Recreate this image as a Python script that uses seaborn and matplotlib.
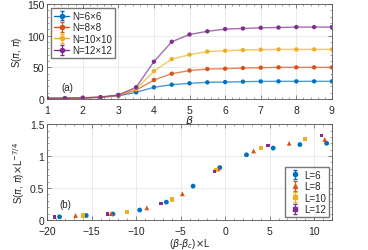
import numpy as np
import pandas as pd
import matplotlib
matplotlib.use("Agg")
import matplotlib.pyplot as plt
from matplotlib.ticker import MultipleLocator
import seaborn as sns

# --- panel (a): S(pi,pi) vs beta ---
beta = [1.0, 1.5, 2.0, 2.5, 3.0, 3.5, 4.0, 4.5, 5.0, 5.5, 6.0, 6.5, 7.0, 7.5, 8.0, 8.5, 9.0]
s_n6 = [1.0, 1.2, 1.6, 2.6, 5.0, 10.5, 18.5, 22.6, 24.8, 26.3, 26.8, 27.4, 27.8, 27.9, 27.9, 27.9, 27.9]
s_n8 = [1.0, 1.2, 1.7, 2.8, 5.6, 14.0, 30.0, 40.0, 45.0, 47.4, 47.9, 49.0, 49.5, 50.0, 50.0, 50.0, 50.0]
s_n10 = [1.0, 1.2, 1.7, 2.9, 6.0, 15.8, 44.0, 63.0, 70.0, 75.0, 76.3, 77.4, 78.0, 78.4, 78.4, 78.4, 78.4]
s_n12 = [1.0, 1.2, 1.8, 3.0, 6.5, 18.5, 59.0, 90.5, 102.0, 107.0, 110.5, 111.5, 112.6, 113.0, 113.7, 113.7, 113.7]
series_a = ["N=6×6", "N=8×8", "N=10×10", "N=12×12"]

# --- panel (b): scaled data collapse ---
x_l6 = [-18.6, -15.6, -12.6, -9.6, -6.6, -3.6, -0.6, 2.4, 5.4, 8.4, 11.4]
y_l6 = [0.05, 0.07, 0.094, 0.156, 0.28, 0.53, 0.82, 1.02, 1.125, 1.18, 1.2]
x_l8 = [-16.8, -12.8, -8.8, -4.8, -0.8, 3.2, 7.2, 11.2]
y_l8 = [0.07, 0.10, 0.19, 0.41, 0.80, 1.08, 1.20, 1.26]
x_l10 = [-16.0, -11.0, -6.0, -1.0, 4.0, 9.0]
y_l10 = [0.07, 0.125, 0.32, 0.78, 1.125, 1.27]
x_l12 = [-19.2, -13.2, -7.2, -1.2, 4.8, 10.8]
y_l12 = [0.05, 0.094, 0.26, 0.76, 1.17, 1.32]
series_b = ["L=6", "L=8", "L=10", "L=12"]

colors = ["#0072BD", "#D95319", "#EDB120", "#7E2F8E"]
txt = "#262626"

sns.set_theme(style="ticks")
plt.rcParams["font.family"] = ["Liberation Sans", "DejaVu Sans"]
plt.rcParams["mathtext.fontset"] = "dejavusans"
plt.rcParams["font.size"] = 7
plt.rcParams["xtick.labelsize"] = 7.5
plt.rcParams["ytick.labelsize"] = 7.5
plt.rcParams["legend.fontsize"] = 7
plt.rcParams["axes.edgecolor"] = "#555555"
plt.rcParams["axes.linewidth"] = 0.6
plt.rcParams["xtick.color"] = "#555555"
plt.rcParams["ytick.color"] = "#555555"
plt.rcParams["xtick.labelcolor"] = txt
plt.rcParams["ytick.labelcolor"] = txt

fig = plt.figure(figsize=(3.68, 2.51), dpi=100)
ax1 = fig.add_axes([0.128, 0.6016, 0.774, 0.378])
ax2 = fig.add_axes([0.128, 0.1195, 0.774, 0.382])

df_a = pd.DataFrame({
    "beta": beta * 4,
    "S": s_n6 + s_n8 + s_n10 + s_n12,
    "N": np.repeat(series_a, len(beta)),
})
sns.lineplot(data=df_a, x="beta", y="S", hue="N", palette=colors, ax=ax1,
             legend=False, linewidth=1.0, alpha=0.7)
sns.scatterplot(data=df_a, x="beta", y="S", hue="N", palette=colors, ax=ax1,
                legend=False, s=10, marker="o", edgecolor="none", zorder=3)
for lab, c in zip(series_a, colors):
    ax1.errorbar([np.nan], [np.nan], yerr=[0], color=c, marker="o", ms=3,
                 lw=1.0, capsize=1.5, elinewidth=0.8, label=lab)

ax1.set_xlim(1, 9)
ax1.set_ylim(0, 150)
ax1.xaxis.set_major_locator(MultipleLocator(1))
ax1.xaxis.set_minor_locator(MultipleLocator(0.2))
ax1.yaxis.set_major_locator(MultipleLocator(50))
ax1.yaxis.set_minor_locator(MultipleLocator(10))
ax1.set_xlabel(r"$\beta$", fontsize=8, labelpad=-1, color=txt)
ax1.set_ylabel(r"S($\pi$, $\pi$)", fontsize=7, labelpad=2, color=txt)
ax1.text(1.4, 14, "(a)", fontsize=7, color=txt)
ax1.legend(loc="upper left", frameon=True, fancybox=False,
           edgecolor="#555555", borderpad=0.3, labelspacing=0.15,
           handlelength=1.6, handletextpad=0.3, borderaxespad=0.4)

df_b = pd.DataFrame({
    "x": x_l6 + x_l8 + x_l10 + x_l12,
    "y": y_l6 + y_l8 + y_l10 + y_l12,
    "L": ["L=6"] * len(x_l6) + ["L=8"] * len(x_l8) + ["L=10"] * len(x_l10) + ["L=12"] * len(x_l12),
})
markers = {"L=6": "o", "L=8": "^", "L=10": "s", "L=12": "s"}
sizes = {"L=6": 12, "L=8": 12, "L=10": 9, "L=12": 6}
for lab, c in zip(series_b, colors):
    sub = df_b[df_b["L"] == lab]
    sns.scatterplot(data=sub, x="x", y="y", color=c, marker=markers[lab],
                    s=sizes[lab], edgecolor="none", ax=ax2, legend=False, zorder=3)
    ax2.errorbar([np.nan], [np.nan], yerr=[0], color=c, marker=markers[lab],
                 ms=3, ls="none", capsize=1.5, elinewidth=0.8, label=lab)

ax2.set_xlim(-20, 12)
ax2.set_ylim(0, 1.5)
ax2.xaxis.set_major_locator(MultipleLocator(5))
ax2.xaxis.set_minor_locator(MultipleLocator(1))
ax2.yaxis.set_major_locator(MultipleLocator(0.5))
ax2.yaxis.set_minor_locator(MultipleLocator(0.1))
ax2.set_yticks([0, 0.5, 1, 1.5])
ax2.set_yticklabels(["0", "0.5", "1", "1.5"])
ax2.set_xlabel(r"($\beta$-$\beta_c$)$\times$L", fontsize=7, labelpad=0, color=txt)
ax2.set_ylabel(r"S($\pi$, $\pi$)$\times$L$^{-7/4}$", fontsize=7, labelpad=2, color=txt)
ax2.text(-18.6, 0.2, "(b)", fontsize=7, color=txt)
ax2.legend(loc="lower right", frameon=True, fancybox=False,
           edgecolor="#555555", borderpad=0.3, labelspacing=0.15,
           handlelength=1.4, handletextpad=0.3, borderaxespad=0.3)

for ax in (ax1, ax2):
    ax.grid(True, which="major", color="#e6e6e6", linewidth=0.6)
    ax.set_axisbelow(True)
    ax.tick_params(which="both", direction="in", top=True, right=True, pad=2)
    ax.tick_params(axis="x", which="major", pad=4)
    ax.tick_params(which="major", length=3, width=0.5)
    ax.tick_params(which="minor", length=1.5, width=0.4)
    for sp in ax.spines.values():
        sp.set_visible(True)

fig.savefig("out.png", dpi=100)
